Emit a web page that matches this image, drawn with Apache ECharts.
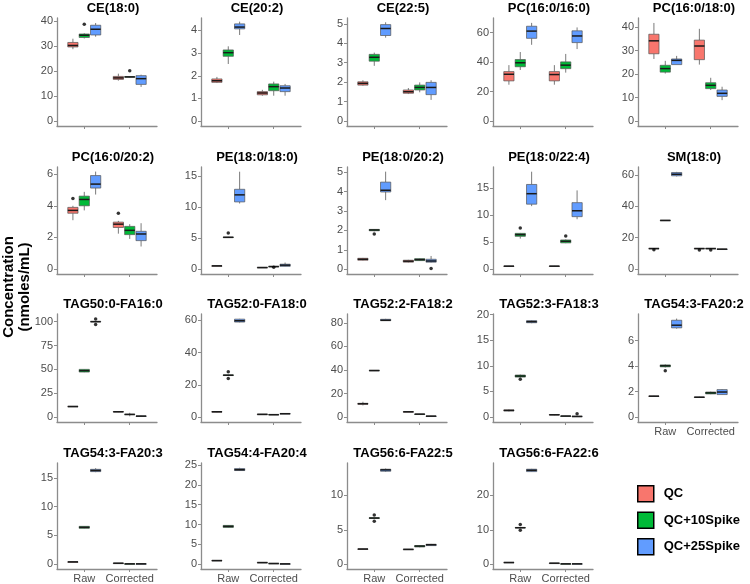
<!DOCTYPE html>
<html>
<head>
<meta charset="utf-8">
<script src="https://cdn.jsdelivr.net/npm/echarts@6/dist/echarts.min.js"></script>
<style>
  html, body { margin: 0; padding: 0; background: #fff; }
  #chart { width: 750px; height: 584px; }
</style>
</head>
<body>
<div id="chart"></div>
<script>
// ---- data ----
const panelNames = [
  'CE(18:0)', 'CE(20:2)', 'CE(22:5)', 'PC(16:0/16:0)', 'PC(16:0/18:0)',
  'PC(16:0/20:2)', 'PE(18:0/18:0)', 'PE(18:0/20:2)', 'PE(18:0/22:4)', 'SM(18:0)',
  'TAG50:0-FA16:0', 'TAG52:0-FA18:0', 'TAG52:2-FA18:2', 'TAG52:3-FA18:3', 'TAG54:3-FA20:2',
  'TAG54:3-FA20:3', 'TAG54:4-FA20:4', 'TAG56:6-FA22:5', 'TAG56:6-FA22:6'
];
const categories = ['Raw', 'Corrected'];
const groupNames = ['QC', 'QC+10Spike', 'QC+25Spike'];

// [lower whisker, Q1, median, Q3, upper whisker] for Raw, then Corrected
const qcStats = [
  [[28.8, 29.7, 30.3, 31.5, 33.0], [16.2, 16.7, 17.3, 17.9, 19.0]],
  [[1.68, 1.71, 1.78, 1.86, 1.95], [1.12, 1.16, 1.24, 1.30, 1.38]],
  [[1.82, 1.85, 1.94, 2.02, 2.10], [1.39, 1.43, 1.51, 1.60, 1.70]],
  [[24.7, 27.3, 31.8, 33.6, 38.0], [24.7, 27.3, 31.6, 33.6, 38.0]],
  [[26.4, 28.6, 34.1, 36.9, 41.7], [24.0, 26.1, 31.9, 34.4, 39.2]],
  [[3.09, 3.53, 3.71, 3.90, 4.00], [2.24, 2.63, 2.84, 2.97, 3.05]],
  [[0.50, 0.52, 0.53, 0.54, 0.56], [0.24, 0.25, 0.26, 0.27, 0.28]],
  [[0.44, 0.46, 0.51, 0.56, 0.58], [0.34, 0.36, 0.41, 0.46, 0.48]],
  [[0.50, 0.52, 0.55, 0.58, 0.60], [0.50, 0.52, 0.55, 0.58, 0.60]],
  [[12.9, 13.0, 13.1, 13.2, 13.3], [12.9, 13.0, 13.1, 13.2, 13.3]],
  [[10.8, 11.0, 11.1, 11.2, 11.4], [5.2, 5.4, 5.6, 5.8, 6.0]],
  [[3.0, 3.2, 3.3, 3.4, 3.6], [1.5, 1.6, 1.7, 1.8, 1.9]],
  [[9.9, 10.9, 11.3, 11.7, 13.0], [4.3, 4.4, 4.5, 4.6, 4.7]],
  [[1.1, 1.2, 1.3, 1.4, 1.5], [0.35, 0.40, 0.45, 0.50, 0.55]],
  [[1.60, 1.62, 1.64, 1.66, 1.68], [1.52, 1.54, 1.56, 1.58, 1.60]],
  [[0.38, 0.39, 0.40, 0.41, 0.42], [0.15, 0.16, 0.17, 0.18, 0.19]],
  [[0.80, 0.85, 0.90, 0.95, 1.00], [0.38, 0.40, 0.41, 0.42, 0.44]],
  [[2.15, 2.18, 2.20, 2.22, 2.25], [2.10, 2.13, 2.15, 2.17, 2.20]],
  [[0.38, 0.43, 0.48, 0.53, 0.58], [0.25, 0.27, 0.29, 0.31, 0.33]]
];
const spike10Stats = [
  [[33.1, 33.5, 34.4, 34.9, 35.2], [17.5, 17.6, 17.7, 17.8, 17.9]],
  [[2.52, 2.86, 3.02, 3.14, 3.30], [1.12, 1.34, 1.52, 1.64, 1.74]],
  [[2.84, 3.08, 3.28, 3.43, 3.52], [1.48, 1.60, 1.73, 1.85, 1.99]],
  [[34.7, 36.9, 39.6, 41.8, 46.9], [32.9, 35.6, 38.0, 40.2, 45.6]],
  [[20.2, 20.8, 22.3, 23.7, 25.6], [13.2, 13.8, 15.2, 16.3, 18.4]],
  [[3.71, 4.00, 4.40, 4.61, 4.88], [1.91, 2.18, 2.45, 2.70, 2.84]],
  [[5.05, 5.10, 5.14, 5.18, 5.22], [0.38, 0.40, 0.42, 0.44, 0.46]],
  [[1.95, 1.98, 2.02, 2.05, 2.07], [0.42, 0.44, 0.49, 0.54, 0.56]],
  [[5.65, 6.07, 6.38, 6.62, 6.70], [4.80, 4.86, 5.16, 5.40, 5.50]],
  [[30.8, 30.9, 31.0, 31.1, 31.2], [12.9, 13.0, 13.1, 13.2, 13.3]],
  [[47.0, 47.2, 48.6, 50.0, 50.3], [0.8, 2.6, 2.8, 3.0, 4.5]],
  [[25.6, 25.8, 26.0, 26.2, 26.4], [1.3, 1.4, 1.5, 1.6, 1.7]],
  [[39.1, 39.3, 39.5, 39.7, 39.9], [2.3, 2.4, 2.5, 2.6, 2.7]],
  [[7.7, 7.8, 8.0, 8.2, 8.3], [0.15, 0.18, 0.20, 0.22, 0.25]],
  [[3.90, 3.95, 4.03, 4.10, 4.15], [1.80, 1.82, 1.90, 1.97, 2.00]],
  [[6.20, 6.24, 6.41, 6.58, 6.62], [0.04, 0.05, 0.06, 0.07, 0.08]],
  [[9.20, 9.27, 9.52, 9.77, 9.85], [0.10, 0.14, 0.17, 0.20, 0.24]],
  [[6.60, 6.65, 6.70, 6.75, 6.80], [2.45, 2.50, 2.63, 2.70, 2.75]],
  [[10.5, 10.55, 10.6, 10.65, 10.7], [0.06, 0.08, 0.10, 0.12, 0.14]]
];
const spike25Stats = [
  [[33.8, 34.5, 36.8, 38.4, 39.3], [13.7, 14.7, 17.0, 18.2, 18.6]],
  [[3.80, 4.07, 4.15, 4.29, 4.39], [1.12, 1.30, 1.46, 1.56, 1.64]],
  [[4.29, 4.40, 4.76, 4.96, 5.08], [1.09, 1.36, 1.73, 1.99, 2.10]],
  [[51.8, 56.2, 61.1, 64.4, 66.7], [48.9, 53.3, 57.8, 61.3, 63.6]],
  [[24.0, 24.0, 25.8, 26.4, 27.7], [8.9, 10.5, 11.8, 13.2, 14.6]],
  [[4.71, 5.12, 5.37, 5.91, 6.16], [1.43, 1.80, 2.22, 2.39, 2.90]],
  [[10.6, 10.86, 12.0, 12.9, 15.74], [0.42, 0.45, 0.64, 0.80, 1.06]],
  [[3.56, 3.98, 4.07, 4.49, 5.03], [0.34, 0.36, 0.42, 0.51, 0.68]],
  [[11.66, 12.02, 13.96, 15.67, 18.03], [9.23, 9.71, 10.8, 12.3, 14.57]],
  [[59.0, 59.4, 60.4, 61.5, 61.9], [12.5, 12.6, 12.7, 12.8, 12.9]],
  [[99.5, 99.8, 100.0, 100.2, 100.5], [0.6, 0.8, 1.0, 1.2, 1.5]],
  [[58.8, 59.0, 59.8, 60.8, 61.0], [1.9, 2.0, 2.1, 2.2, 2.3]],
  [[81.6, 81.8, 82.2, 83.0, 83.4], [0.6, 0.7, 0.8, 0.9, 1.0]],
  [[18.3, 18.4, 18.6, 18.8, 18.9], [0.08, 0.10, 0.13, 0.16, 0.18]],
  [[6.95, 7.01, 7.22, 7.61, 7.74], [1.75, 1.77, 1.97, 2.16, 2.20]],
  [[16.0, 16.1, 16.3, 16.5, 16.7], [0.03, 0.05, 0.06, 0.07, 0.09]],
  [[23.5, 23.6, 23.8, 24.1, 24.3], [0.04, 0.06, 0.08, 0.10, 0.12]],
  [[13.4, 13.5, 13.7, 13.8, 13.9], [2.65, 2.70, 2.82, 2.90, 2.95]],
  [[26.8, 26.9, 27.3, 27.6, 27.7], [0.06, 0.08, 0.10, 0.12, 0.14]]
];
// [panel, category, group, value]
const outliers = [
  [0, 0, 1, 38.8], [0, 1, 1, 20.2],
  [5, 0, 0, 4.46], [5, 1, 0, 3.53],
  [6, 0, 1, 5.83], [6, 1, 1, 0.30],
  [7, 0, 1, 1.81], [7, 1, 2, 0.03],
  [8, 0, 1, 7.59], [8, 1, 1, 6.13],
  [9, 0, 0, 12.3], [9, 1, 0, 12.1], [9, 1, 1, 12.1],
  [10, 0, 2, 102.8], [10, 0, 2, 96.9],
  [11, 0, 1, 28.1], [11, 0, 1, 24.0],
  [13, 0, 1, 7.4], [13, 1, 2, 0.65],
  [14, 0, 1, 3.64],
  [17, 0, 1, 7.13], [17, 0, 1, 6.22],
  [18, 0, 1, 11.5], [18, 0, 1, 9.86]
];
const yTops = [41.3, 4.55, 5.3, 70, 43.8, 6.45, 16.5, 5.27, 18.9, 65,
  108, 64, 87.5, 20.1, 8.1, 17.6, 25.5, 14.7, 29.4];
const yTicks = [
  [0, 10, 20, 30, 40], [0, 1, 2, 3, 4], [0, 1, 2, 3, 4, 5], [0, 20, 40, 60], [0, 10, 20, 30, 40],
  [0, 2, 4, 6], [0, 5, 10, 15], [0, 1, 2, 3, 4, 5], [0, 5, 10, 15], [0, 20, 40, 60],
  [0, 25, 50, 75, 100], [0, 20, 40, 60], [0, 20, 40, 60, 80], [0, 5, 10, 15, 20], [0, 2, 4, 6],
  [0, 5, 10, 15], [0, 5, 10, 15, 20, 25], [0, 5, 10], [0, 10, 20]
];

// ---- layout ----
const groupColors = ['#F8766D', '#00BA38', '#619CFF'];
const groupStats = [qcStats, spike10Stats, spike25Stats];
const FONT = '"Liberation Sans", Arial, sans-serif';
const colLeft = [57, 201, 347, 493, 638];
const rowTop = [18, 167, 314, 463];
const rowH = [108, 107, 108, 107];
const panelW = 100;
const dodge = 0.25;     // dodge offset between groups (x units)
const halfBox = 0.1125; // half box width (x units)
const axisColor = '#8c8c8c';

const chart = echarts.init(document.getElementById('chart'));

function boxRenderer(g) {
  return function (params, api) {
    const x = api.value(0) + (g - 1) * dodge;
    const lo = api.coord([x, api.value(1)]);
    const q1 = api.coord([x - halfBox, api.value(2)]);
    const med = api.coord([x, api.value(3)]);
    const q3 = api.coord([x + halfBox, api.value(4)]);
    const hi = api.coord([x, api.value(5)]);
    return {
      type: 'group',
      children: [
        { type: 'line', shape: { x1: med[0], y1: hi[1], x2: med[0], y2: q3[1] }, style: { stroke: '#7a7a7a', lineWidth: 1 } },
        { type: 'line', shape: { x1: med[0], y1: q1[1], x2: med[0], y2: lo[1] }, style: { stroke: '#7a7a7a', lineWidth: 1 } },
        { type: 'rect', shape: { x: q1[0], y: q3[1], width: q3[0] - q1[0], height: Math.max(q1[1] - q3[1], 0.5) },
          style: { fill: api.visual('color'), stroke: '#555', lineWidth: 0.7 } },
        { type: 'line', shape: { x1: q1[0], y1: med[1], x2: q3[0], y2: med[1] }, style: { stroke: '#1a1a1a', lineWidth: 1.5 } }
      ]
    };
  };
}

const grids = [], xAxes = [], yAxes = [], series = [], graphics = [];
panelNames.forEach((name, i) => {
  const r = Math.floor(i / 5), c = i % 5;
  grids.push({ left: colLeft[c], top: rowTop[r], width: panelW, height: rowH[r] });
  const showX = i >= 14;
  xAxes.push({
    gridIndex: i, type: 'value', min: 0.4, max: 2.6,
    axisLine: { show: true, onZero: false, lineStyle: { color: axisColor, width: 1.3 } },
    axisTick: { show: true, customValues: [1, 2], length: 3, lineStyle: { color: axisColor } },
    axisLabel: { show: showX, customValues: [1, 2], formatter: v => categories[Math.round(v) - 1],
      color: '#4d4d4d', fontSize: 11, margin: 4, fontFamily: FONT },
    splitLine: { show: false }
  });
  yAxes.push({
    gridIndex: i, type: 'value', min: -yTops[i] / 21, max: yTops[i],
    axisLine: { show: true, onZero: false, lineStyle: { color: axisColor, width: 1.3 } },
    axisTick: { show: true, customValues: yTicks[i], length: 3, lineStyle: { color: axisColor } },
    axisLabel: { customValues: yTicks[i], color: '#4d4d4d', fontSize: 11, margin: 4, fontFamily: FONT },
    splitLine: { show: false }
  });
  groupStats.forEach((stats, g) => {
    series.push({
      type: 'custom', name: groupNames[g], xAxisIndex: i, yAxisIndex: i,
      itemStyle: { color: groupColors[g] },
      encode: { x: 0, y: [1, 2, 3, 4, 5] },
      data: stats[i].map((s, k) => [k + 1].concat(s)),
      renderItem: boxRenderer(g), clip: false, silent: true, z: 2
    });
  });
  const pts = outliers.filter(o => o[0] === i).map(o => [o[1] + 1 + (o[2] - 1) * dodge, o[3]]);
  if (pts.length) {
    series.push({ type: 'scatter', xAxisIndex: i, yAxisIndex: i, data: pts, symbolSize: 3.5,
      itemStyle: { color: '#000' }, silent: true, z: 3 });
  }
  graphics.push({
    type: 'text', x: colLeft[c] + panelW / 2 + 6, y: rowTop[r] - 10,
    style: { text: name, font: 'bold 13px ' + FONT, fill: '#000',
      textAlign: 'center', textVerticalAlign: 'middle', align: 'center', verticalAlign: 'middle' }
  });
});

graphics.push({
  type: 'text', x: 9, y: 287, rotation: Math.PI / 2,
  style: { text: 'Concentration', font: 'bold 15px ' + FONT, fill: '#000',
    textAlign: 'center', textVerticalAlign: 'middle', align: 'center', verticalAlign: 'middle' }
});
graphics.push({
  type: 'text', x: 25, y: 287, rotation: Math.PI / 2,
  style: { text: '(nmoles/mL)', font: 'bold 15px ' + FONT, fill: '#000',
    textAlign: 'center', textVerticalAlign: 'middle', align: 'center', verticalAlign: 'middle' }
});

chart.setOption({
  animation: false,
  backgroundColor: '#fff',
  grid: grids,
  xAxis: xAxes,
  yAxis: yAxes,
  series: series,
  graphic: graphics,
  legend: {
    data: groupNames.map((n, g) => ({ name: n, itemStyle: { color: groupColors[g] } })),
    orient: 'vertical', left: 637, top: 485, padding: 0,
    itemWidth: 16, itemHeight: 16, itemGap: 9, icon: 'rect',
    itemStyle: { borderColor: '#000', borderWidth: 1.5 },
    textStyle: { fontSize: 13, fontWeight: 'bold', color: '#000', fontFamily: FONT, padding: [0, 0, 0, 5] },
    selectedMode: false
  }
});

window.addEventListener('resize', () => chart.resize());
</script>
</body>
</html>
